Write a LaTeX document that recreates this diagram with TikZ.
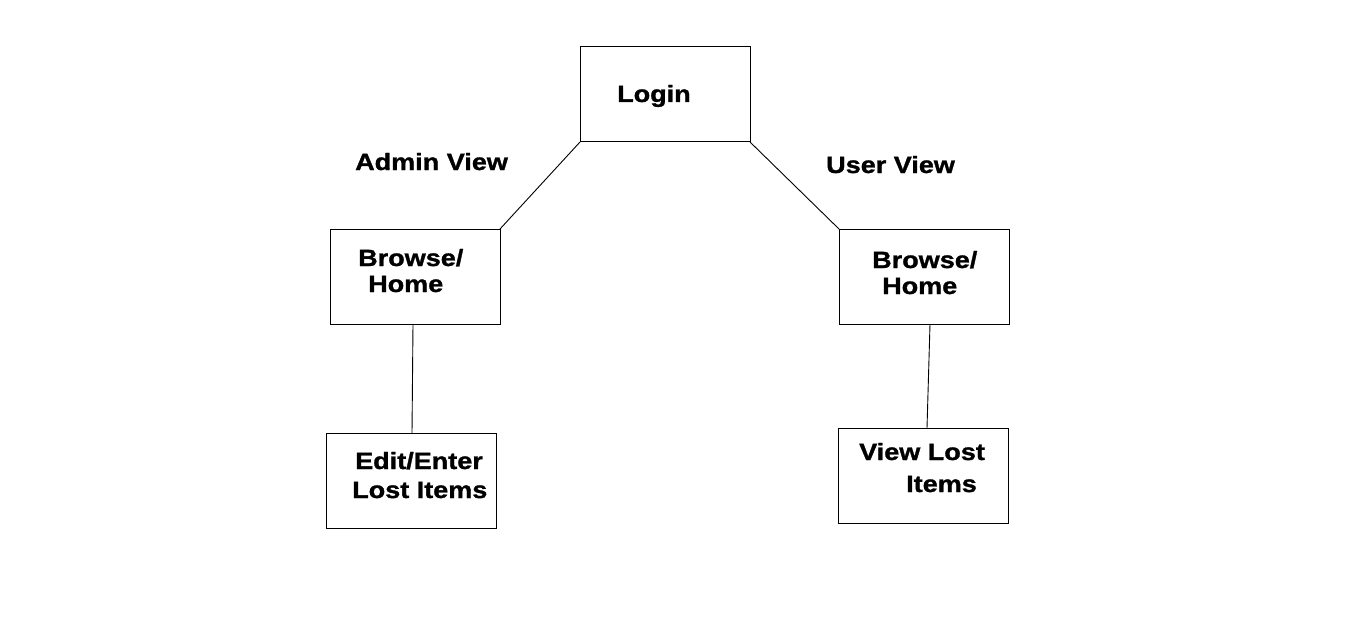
\documentclass[tikz,border=0pt]{standalone}
\usepackage{fontspec}
\newfontfamily\diafont[FakeStretch=1.15,BoldFeatures={FakeBold=1.2}]{Liberation Sans}
\usepackage{tikz}
\usetikzlibrary{positioning,calc}

\begin{document}
\begin{tikzpicture}[x=1pt,y=-1pt,
		box/.style={draw, rectangle, line width=1pt, minimum width=170pt, minimum height=95pt, inner sep=0pt, outer sep=0pt},
		lbl/.style={anchor=base west, inner sep=0pt, font=\diafont\bfseries\fontsize{23.5}{28}\selectfont},
		wire/.style={line width=0.9pt}]
		\useasboundingbox[fill=white] (0,0) rectangle (1360,623);

		\node[box] (login) at (665,94.5) {};
		\node[box] (adminbrowse) at (415,276.5) {};
		\node[box] (userbrowse) at (924,276.5) {};
		\node[box] (adminedit) at (411,480.5) {};
		\node[box] (userview) at (923,475.5) {};

		\node[lbl] (tlogin) at (617,102) {Login};
		\node[lbl] (tadmin) at (355,170) {Admin View};
		\node[lbl] (tuser) at (826,173) {User View};

		\node[lbl] (tab1) at (358,266) {Browse/};
		\node[lbl] (tab2) at (368,292) {Home};
		\node[lbl] (tub1) at (872,268) {Browse/};
		\node[lbl] (tub2) at (882,294) {Home};

		\node[lbl] (tae1) at (355,469) {Edit/Enter};
		\node[lbl] (tae2) at (352,498) {Lost Items};
		\node[lbl] (tuv1) at (859,460) {View Lost};
		\node[lbl] (tuv2) at (906,492) {Items};

		\draw[wire] (login.south west) -- (adminbrowse.north east);
		\draw[wire] (login.south east) -- (userbrowse.north west);
		\draw[wire] ($(adminbrowse.south)+(-2,0)$) -- ($(adminedit.north)+(1,0)$);
		\draw[wire] ($(userbrowse.south)+(6,0)$) -- ($(userview.north)+(4,0)$);
	\end{tikzpicture}
\end{document}
